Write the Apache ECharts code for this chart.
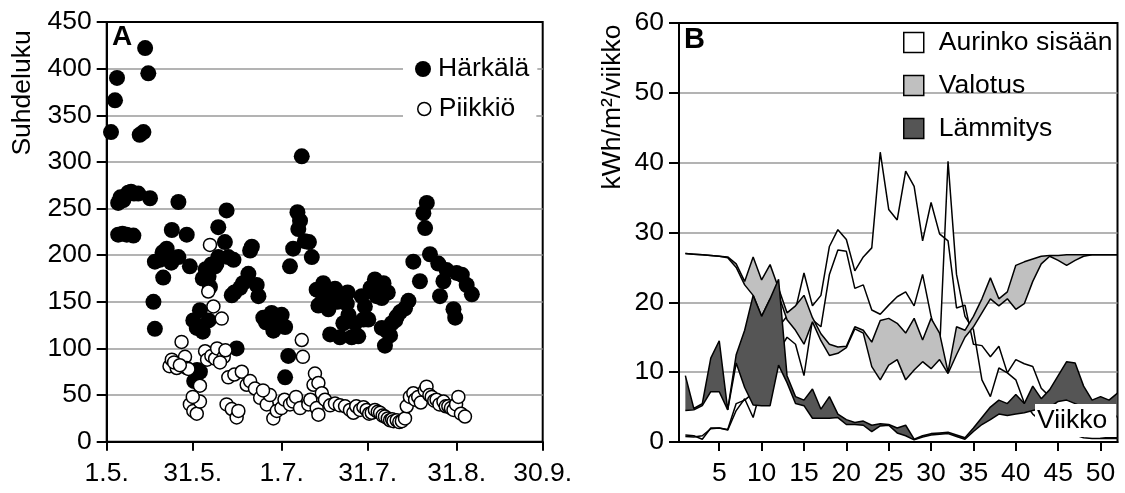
<!DOCTYPE html>
<html>
<head>
<meta charset="utf-8">
<script src="https://cdn.jsdelivr.net/npm/echarts@6/dist/echarts.min.js"></script>
<style>
html, body { margin: 0; padding: 0; background: #fff; }
#main { width: 1125px; height: 493px; }
</style>
</head>
<body>
<div id="main"></div>
<script>
// Panel A: ratio per day (day 0 = 1.5.)
var harkala = [
  [1.5, 332], [2.9, 366], [3.6, 390],
  [4.0, 256], [4.8, 262], [5.8, 259], [7.5, 267], [8.5, 268], [9.5, 266], [11.0, 266], [15.1, 261],
  [4.0, 222], [5.5, 223], [7.0, 222], [9.3, 221],
  [11.5, 329], [12.8, 332], [13.4, 422], [14.5, 395],
  [16.3, 150], [16.8, 121], [16.8, 193],
  [18.5, 195], [19.5, 203], [20.9, 207], [21.5, 200], [22.5, 192], [19.7, 176], [25.0, 198],
  [22.7, 227], [25.0, 257], [27.9, 222], [29.0, 188],
  [30.2, 130], [31.4, 122], [32.5, 141], [33.5, 118], [35.5, 130], [31.5, 77], [32.5, 75], [30.5, 65],
  [33.5, 175], [34.5, 185], [35.5, 177], [36.0, 166], [36.5, 190], [37.8, 188], [38.3, 191], [38.9, 198],
  [38.9, 230], [41.8, 248], [41.2, 214], [42.4, 198], [44.2, 195],
  [43.6, 157], [44.5, 160], [46.5, 165], [47.5, 170], [49.4, 180], [50.0, 205], [50.6, 209], [52.3, 168], [52.9, 156],
  [45.3, 100],
  [54.6, 133], [55.5, 128], [56.9, 130], [58.1, 119], [59.0, 125], [60.4, 130], [61.0, 136], [62.2, 123], [57.5, 138],
  [63.3, 92], [62.2, 69],
  [63.9, 188], [65.0, 207], [66.5, 246], [66.8, 228], [67.4, 237], [68.0, 306], [69.1, 215], [70.5, 214], [71.5, 198],
  [73.2, 163], [73.8, 146], [74.4, 162], [75.0, 150], [75.5, 170], [77.3, 142], [77.9, 115], [78.5, 155], [79.6, 164],
  [80.5, 150], [81.3, 112], [82.5, 127], [83.7, 148], [84.0, 160], [84.3, 136], [85.4, 112], [86.6, 127], [87.7, 113],
  [88.9, 156], [89.5, 131], [90.0, 145], [91.2, 131], [92.0, 165], [93.5, 174], [94.1, 156], [95.9, 154], [95.9, 122],
  [96.5, 170], [97.0, 103], [97.6, 119], [98.0, 160], [98.8, 114], [99.4, 127], [100.6, 130], [101.1, 134], [102.3, 139],
  [104.0, 143], [105.2, 151],
  [106.9, 193], [109.2, 172], [110.4, 245], [111.0, 229], [111.6, 256], [112.7, 201], [115.6, 191], [116.2, 156],
  [117.4, 172], [118.5, 184], [120.9, 142], [121.5, 133], [122.0, 181], [123.8, 179], [125.5, 168], [127.3, 158]
];

var piikkio = [
  [21.9, 81], [22.7, 88], [24.4, 79], [26.1, 107], [27.3, 91], [27.9, 79], [28.5, 78], [23.5, 85], [25.5, 82],
  [29.0, 40], [30.2, 33], [31.4, 30], [32.5, 43], [32.5, 60], [30.0, 48],
  [34.3, 97], [35.4, 161], [36.0, 211], [37.2, 145], [40.1, 132], [35.0, 88], [36.5, 92], [37.8, 89], [38.5, 100],
  [40.8, 91], [41.4, 98], [39.5, 85],
  [41.8, 40], [42.4, 69], [43.6, 35], [45.3, 26], [45.9, 33], [44.5, 72],
  [47.1, 75], [48.8, 61], [50.0, 65], [51.7, 57], [53.5, 47], [55.8, 40], [56.9, 50], [54.5, 55], [58.1, 25],
  [59.3, 33], [60.9, 36], [62.0, 45], [63.9, 40], [65.0, 43], [66.0, 48],
  [67.4, 36], [68.0, 109], [68.4, 91], [70.3, 40], [71.0, 45], [72.1, 61], [72.6, 73], [73.2, 36], [73.8, 63],
  [73.8, 29], [75.0, 52], [76.1, 45], [77.9, 39], [79.6, 41], [81.3, 39], [83.1, 38], [84.8, 34], [86.0, 31],
  [87.0, 38], [88.3, 34], [89.5, 37], [90.6, 34], [91.5, 30], [92.4, 31], [93.5, 34], [94.5, 32], [95.3, 31],
  [96.2, 28], [97.0, 27], [98.0, 25], [98.8, 23], [99.5, 24], [100.0, 22], [101.1, 23], [102.0, 21], [102.9, 22],
  [104.0, 25], [104.6, 38], [105.7, 48], [106.9, 52], [107.5, 45], [108.6, 48], [109.5, 42], [110.9, 55], [111.5, 59],
  [112.5, 50], [113.3, 48], [114.2, 44], [115.0, 45], [116.0, 40], [117.4, 43], [118.2, 38], [119.1, 38], [120.0, 36],
  [120.9, 34], [121.8, 40], [122.6, 48], [123.5, 30], [124.9, 27]
];

var dateTicks = [0, 30, 61, 91, 122, 152];
var dateLabels = ['1.5.', '31.5.', '1.7.', '31.7.', '31.8.', '30.9.'];

// Panel B: kWh/m2/week, two lines per quantity
var weeks = [1, 2, 3, 4, 5, 6, 7, 8, 9, 10, 11, 12, 13, 14, 15, 16, 17, 18, 19, 20, 21, 22, 23, 24, 25, 26,
  27, 28, 29, 30, 31, 32, 33, 34, 35, 36, 37, 38, 39, 40, 41, 42, 43, 44, 45, 46, 47, 48, 49, 50, 51, 52];
var weekTicks = [5, 10, 15, 20, 25, 30, 35, 40, 45, 50];

var sunA = [1.0, 0.9, 0.4, 2.0, 2.0, 1.8, 5.5, 6.0, 7.0, 10.0, 14.0, 16.5, 18.0, 19.0, 24.2, 19.5, 21.0, 28.0, 30.4, 29.0,
  24.5, 26.5, 27.8, 41.5, 33.3, 31.8, 38.8, 36.6, 28.8, 34.3, 29.8, 28.8, 19.2, 19.6, 14.0, 13.8, 12.2, 13.7, 9.9, 11.8,
  11.2, 10.8, 7.7, 6.5, 5.0, 4.0, 3.0, 2.0, 1.2, 0.8, 0.6, 0.6];
var sunB = [0.8, 0.7, 0.9, 1.9, 2.0, 1.7, 4.5, 6.2, 3.5, 8.0, 11.0, 13.0, 15.0, 14.0, 9.5, 17.5, 16.5, 24.0, 27.5, 27.3,
  22.0, 22.5, 18.9, 18.3, 19.6, 20.8, 21.5, 19.5, 24.0, 18.0, 13.0, 40.2, 24.0, 18.0, 16.1, 8.9, 6.5, 10.6, 9.9, 8.9,
  5.6, 4.0, 3.0, 2.5, 2.0, 1.5, 1.0, 0.6, 0.5, 0.5, 0.5, 0.5];

var lightA = [27.0, 26.9, 26.8, 26.7, 26.6, 26.5, 25.5, 23.0, 26.5, 23.2, 25.4, 22.0, 18.5, 19.5, 21.0, 17.8, 15.5, 14.0,
  13.6, 13.7, 16.5, 16.0, 14.3, 17.4, 17.7, 17.0, 15.6, 17.7, 14.6, 17.7, 15.6, 10.0, 16.5, 16.0, 18.0, 20.5, 23.5,
  20.5, 21.5, 25.3, 25.8, 26.2, 26.6, 26.7, 26.7, 26.8, 26.8, 26.8, 26.8, 26.8, 26.8, 26.8];
var lightB = [27.0, 26.9, 26.8, 26.7, 26.6, 26.4, 25.0, 22.5, 21.0, 18.0, 20.5, 21.0, 17.5, 16.0, 14.0, 17.2, 14.5, 12.4,
  12.7, 13.5, 16.2, 15.6, 10.8, 8.9, 11.0, 11.8, 8.9, 10.3, 11.5, 10.5, 11.8, 9.8, 12.5, 15.0, 16.5, 18.5, 20.5,
  19.5, 20.5, 19.0, 19.8, 23.0, 25.5, 26.6, 26.0, 25.3, 26.0, 26.6, 26.8, 26.8, 26.8, 26.8];

var heatA = [9.5, 4.8, 5.5, 12.0, 14.5, 4.6, 12.5, 16.0, 21.0, 18.0, 20.5, 23.3, 9.5, 6.5, 6.0, 7.6, 4.7, 6.5, 4.0, 3.2,
  2.8, 3.0, 2.4, 2.6, 2.5, 2.0, 2.4, 0.4, 0.9, 1.2, 1.3, 1.4, 1.0, 0.6, 2.0, 3.5, 5.0, 6.0, 5.5, 6.8, 5.5, 8.0, 6.2,
  7.5, 9.5, 11.5, 11.3, 8.0, 6.0, 6.5, 6.0, 7.0];
var heatB = [4.5, 4.6, 5.2, 7.2, 7.2, 4.6, 11.3, 7.8, 5.3, 5.2, 5.2, 11.0, 8.5, 5.5, 5.2, 3.4, 3.4, 3.4, 3.5, 2.5,
  2.5, 2.4, 1.5, 2.3, 2.4, 1.3, 0.9, 0.3, 0.7, 1.0, 1.1, 1.2, 0.8, 0.4, 1.5, 2.5, 3.2, 4.0, 3.8, 4.0, 4.2, 4.5, 4.8,
  5.0, 5.8, 6.0, 5.5, 5.0, 5.2, 5.0, 4.8, 3.5];

var FONT = '"Liberation Sans", Arial, sans-serif';
var FS = 26.5;
var chart = echarts.init(document.getElementById('main'));

// filled region between two lines, drawn once through the axis scales
function bandSeries(name, lineA, lineB, fill, z) {
  return {
    name: name,
    type: 'custom',
    xAxisIndex: 1,
    yAxisIndex: 1,
    z: z,
    silent: true,
    itemStyle: { color: fill },
    encode: { x: 0, y: [1, 2] },
    data: weeks.map(function (w, i) { return [w, lineA[i], lineB[i]]; }),
    renderItem: function (params, api) {
      if (params.dataIndex !== 0) return;
      var pts = [];
      for (var i = 0; i < weeks.length; i++) pts.push(api.coord([weeks[i], lineA[i]]));
      for (var j = weeks.length - 1; j >= 0; j--) pts.push(api.coord([weeks[j], lineB[j]]));
      return { type: 'polygon', shape: { points: pts }, style: { fill: fill, stroke: null } };
    }
  };
}

function lineSeries(name, values, z) {
  return {
    name: name,
    type: 'line',
    xAxisIndex: 1,
    yAxisIndex: 1,
    z: z,
    silent: true,
    symbol: 'none',
    lineStyle: { color: '#000', width: 1.5 },
    data: weeks.map(function (w, i) { return [w, values[i]]; })
  };
}

var axisLine = { show: true, lineStyle: { color: '#000', width: 2 } };
var tickStyle = { color: '#000', width: 2 };
var labelStyle = { color: '#000', fontSize: FS, fontFamily: FONT };
var gridLine = { show: true, showMinLine: false, showMaxLine: false, lineStyle: { color: '#9a9a9a', width: 1.5 } };
var ellipse = 'path://M0,50 A50,50 0 1,1 100,50 A50,50 0 1,1 0,50 Z';

var option = {
  animation: false,
  backgroundColor: '#fff',
  grid: [
    { left: 106.7, top: 22, width: 436, height: 419.7, show: true, borderColor: '#000', borderWidth: 2,
      containLabel: false, outerBoundsMode: 'none' },
    { left: 679, top: 23, width: 438.5, height: 419, show: true, borderColor: '#000', borderWidth: 2,
      containLabel: false, outerBoundsMode: 'none' }
  ],
  xAxis: [
    {
      gridIndex: 0, type: 'value', min: 0, max: 152,
      axisLine: axisLine,
      axisTick: { show: true, customValues: dateTicks, length: 9, lineStyle: tickStyle },
      axisLabel: Object.assign({
        customValues: dateTicks, margin: 18,
        formatter: function (v) { var i = dateTicks.indexOf(v); return i >= 0 ? dateLabels[i] : ''; }
      }, labelStyle),
      splitLine: { show: false }
    },
    {
      gridIndex: 1, type: 'value', min: 0.25, max: 52,
      axisLine: axisLine,
      axisTick: { show: true, customValues: weekTicks, length: 9, lineStyle: tickStyle },
      axisLabel: Object.assign({ customValues: weekTicks, margin: 18 }, labelStyle),
      splitLine: { show: false }
    }
  ],
  yAxis: [
    {
      gridIndex: 0, type: 'value', min: 0, max: 450, interval: 50,
      axisLine: axisLine,
      axisTick: { show: true, length: 10, lineStyle: tickStyle },
      axisLabel: Object.assign({ margin: 15, padding: [5, 0, 0, 0] }, labelStyle),
      splitLine: gridLine
    },
    {
      gridIndex: 1, type: 'value', min: 0, max: 60, interval: 10,
      axisLine: axisLine,
      axisTick: { show: true, length: 10, lineStyle: tickStyle },
      axisLabel: Object.assign({ margin: 15, padding: [5, 0, 0, 0] }, labelStyle),
      splitLine: gridLine
    }
  ],
  legend: [
    {
      data: [{ name: 'Härkälä', icon: ellipse, itemStyle: { color: '#000', borderWidth: 0 } }],
      left: 403, top: 49.5, padding: [6, 8, 6, 12],
      itemWidth: 16, itemHeight: 20, backgroundColor: '#fff',
      textStyle: { color: '#000', fontSize: FS, fontFamily: FONT, padding: [0, 0, 0, 2] }
    },
    {
      data: [{ name: 'Piikkiö', icon: 'circle', itemStyle: { color: '#fff', borderColor: '#000', borderWidth: 1.5 } }],
      left: 403, top: 89.5, padding: [6, 21, 6, 14],
      itemWidth: 13, itemHeight: 13, backgroundColor: '#fff',
      textStyle: { color: '#000', fontSize: FS, fontFamily: FONT, padding: [0, 0, 0, 3] }
    },
    {
      data: [
        { name: 'Aurinko sisään', icon: 'rect', itemStyle: { color: '#fff', borderColor: '#000', borderWidth: 1.5 } },
        { name: 'Valotus', icon: 'rect', itemStyle: { color: '#c0c0c0', borderColor: '#000', borderWidth: 1.5 } },
        { name: 'Lämmitys', icon: 'rect', itemStyle: { color: '#555555', borderColor: '#000', borderWidth: 1.5 } }
      ],
      orient: 'vertical', left: 903, top: 29, padding: 0,
      itemWidth: 20, itemHeight: 20, itemGap: 16,
      textStyle: { color: '#000', fontSize: FS, fontFamily: FONT, padding: [0, 0, 0, 10] }
    }
  ],
  graphic: [
    { type: 'text', x: 23, y: 93, rotation: Math.PI / 2,
      style: { text: 'Suhdeluku', fill: '#000', fontSize: FS, fontFamily: FONT, align: 'center', verticalAlign: 'middle' } },
    { type: 'text', x: 613, y: 107, rotation: Math.PI / 2,
      style: { text: 'kWh/m²/viikko', fill: '#000', fontSize: FS, fontFamily: FONT, align: 'center', verticalAlign: 'middle' } },
    { type: 'text', x: 112, y: 23, z: 20,
      style: { text: 'A', fill: '#000', fontSize: 28, fontWeight: 'bold', fontFamily: FONT, verticalAlign: 'top' } },
    { type: 'text', x: 684, y: 25, z: 20,
      style: { text: 'B', fill: '#000', fontSize: 29, fontWeight: 'bold', fontFamily: FONT, verticalAlign: 'top' } },
    { type: 'text', x: 1035, y: 404, z: 20,
      style: { text: 'Viikko', fill: '#000', fontSize: FS, fontFamily: FONT, verticalAlign: 'top',
        backgroundColor: '#fff', padding: [3, 9, 3, 2] } }
  ],
  series: [
    {
      name: 'Härkälä', type: 'scatter', xAxisIndex: 0, yAxisIndex: 0, z: 2,
      symbol: 'circle', symbolSize: 16, itemStyle: { color: '#000', opacity: 1 },
      data: harkala
    },
    {
      name: 'Piikkiö', type: 'scatter', xAxisIndex: 0, yAxisIndex: 0, z: 3,
      symbol: 'circle', symbolSize: 13, itemStyle: { color: '#fff', borderColor: '#000', borderWidth: 1.5, opacity: 1 },
      data: piikkio
    },
    bandSeries('Aurinko sisään', sunA, sunB, '#ffffff', 3),
    lineSeries('sunA', sunA, 4),
    lineSeries('sunB', sunB, 4),
    bandSeries('Valotus', lightA, lightB, '#c0c0c0', 5),
    lineSeries('lightA', lightA, 6),
    lineSeries('lightB', lightB, 6),
    bandSeries('Lämmitys', heatA, heatB, '#555555', 7),
    lineSeries('heatA', heatA, 8),
    lineSeries('heatB', heatB, 8)
  ]
};

chart.setOption(option);
</script>
</body>
</html>
